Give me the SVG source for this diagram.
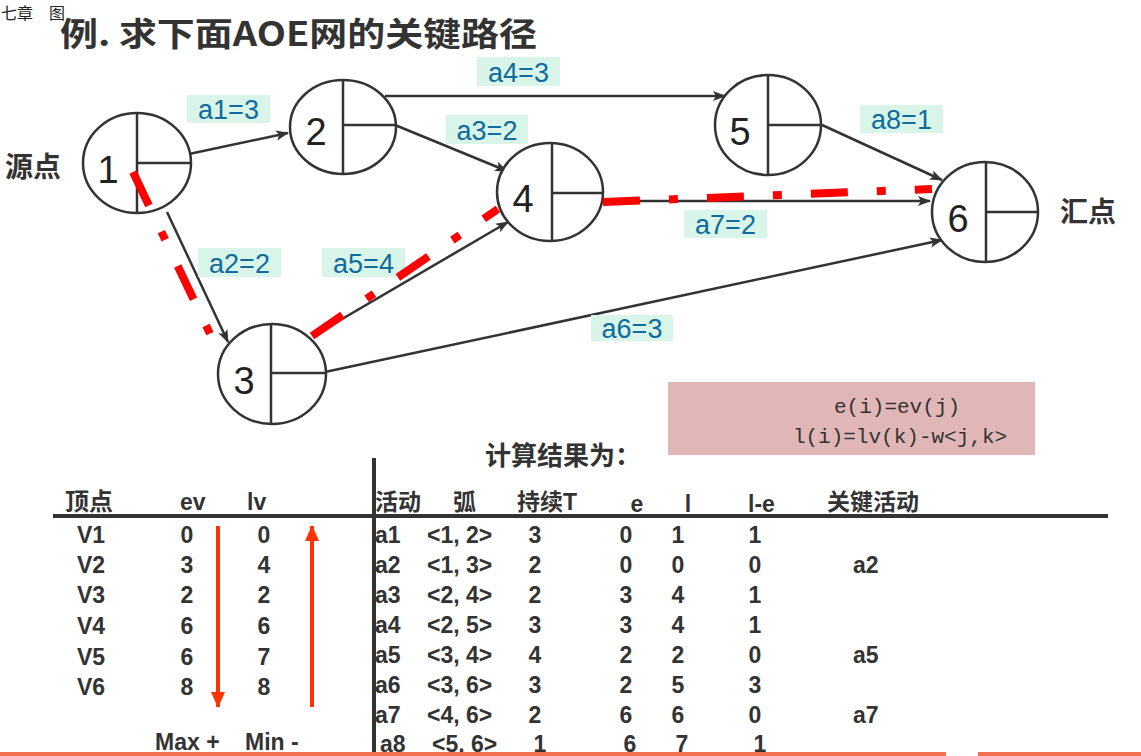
<svg xmlns="http://www.w3.org/2000/svg" width="1141" height="756" viewBox="0 0 1141 756">
<style>
.nd{fill:#fff;stroke:#333;stroke-width:2.5}
.dv{stroke:#333;stroke-width:2.5}
.num{font-family:"Liberation Sans Narrow","Liberation Sans",sans-serif;font-size:38px;fill:#222;text-anchor:middle}
.e{stroke:#333;stroke-width:2.5;fill:none;marker-end:url(#ah)}
.crit{stroke:#ff0000;stroke-width:8;fill:none;stroke-dasharray:37 29 9 29}
.lb{fill:#d9f4e8}
.lt{font-family:"Liberation Sans Narrow","Liberation Sans",sans-serif;font-size:27px;fill:#0e6b9e;text-anchor:middle}
.cj{font-family:"Noto Sans CJK SC",sans-serif;font-weight:bold;fill:#333}
.t{font-family:"Liberation Sans Narrow","Liberation Sans",sans-serif;font-weight:bold;font-size:23px;fill:#333}
.c{text-anchor:middle}
.mono{font-family:"Liberation Mono",monospace;font-size:21px;fill:#333;text-anchor:middle}
.ra{stroke:#ff3300;stroke-width:4;marker-end:url(#rh)}
</style>
<defs>
<marker id="ah" markerUnits="userSpaceOnUse" markerWidth="14" markerHeight="12" refX="12" refY="5" orient="auto" viewBox="0 0 14 10"><path d="M0,0 L13,5 L0,10 L3,5 Z" fill="#333"/></marker>
<marker id="rh" markerUnits="userSpaceOnUse" markerWidth="16" markerHeight="16" refX="15" refY="7" orient="auto" viewBox="0 0 16 14"><path d="M0,0 L16,7 L0,14 Z" fill="#ff3300"/></marker>
</defs>
<rect width="1141" height="756" fill="#fff"/>
<text x="1" y="19" font-family="Noto Sans CJK SC,sans-serif" font-size="16" fill="#222">七章　图</text>
<text x="60" y="46" class="cj" font-size="33" textLength="477" lengthAdjust="spacingAndGlyphs">例.  求下面AOE网的关键路径</text>
<text x="5" y="177" class="cj" font-size="28">源点</text>
<text x="1060" y="222" class="cj" font-size="28">汇点</text>

<g id="connectors">
<line class="e" x1="189" y1="154" x2="288" y2="133"/>
<line class="e" x1="167" y1="212" x2="228" y2="342"/>
<line class="e" x1="395" y1="125" x2="507" y2="171"/>
<line class="e" x1="385" y1="96" x2="725" y2="96"/>
<line class="e" x1="313" y1="336" x2="508" y2="222"/>
<line class="e" x1="325" y1="372" x2="942" y2="240"/>
<line class="e" x1="603" y1="201" x2="930" y2="201"/>
<line class="e" x1="822" y1="125" x2="942" y2="180"/>
</g>

<g id="labels">
<rect class="lb" x="187" y="95" width="83" height="28"/><text class="lt" x="228.5" y="119">a1=3</text>
<rect class="lb" x="198" y="248" width="83" height="29"/><text class="lt" x="239.5" y="273">a2=2</text>
<rect class="lb" x="446" y="115" width="82" height="29"/><text class="lt" x="487" y="140">a3=2</text>
<rect class="lb" x="477" y="57" width="83" height="29"/><text class="lt" x="518.5" y="82">a4=3</text>
<rect class="lb" x="322" y="248" width="83" height="29"/><text class="lt" x="363.5" y="273">a5=4</text>
<rect class="lb" x="591" y="315" width="82" height="26"/><text class="lt" x="632" y="338">a6=3</text>
<rect class="lb" x="684" y="210" width="83" height="28"/><text class="lt" x="725.5" y="234">a7=2</text>
<rect class="lb" x="860" y="105" width="83" height="28"/><text class="lt" x="901.5" y="129">a8=1</text>
</g>

<g id="n1"><ellipse class="nd" cx="137" cy="163" rx="54" ry="50"/><line class="dv" x1="137" y1="113" x2="137" y2="213"/><line class="dv" x1="137" y1="163" x2="191" y2="163"/><text class="num" x="108" y="183">1</text></g>
<g id="n2"><ellipse class="nd" cx="343" cy="127" rx="53" ry="47"/><line class="dv" x1="343" y1="80" x2="343" y2="174"/><line class="dv" x1="343" y1="125" x2="396" y2="125"/><text class="num" x="316" y="145">2</text></g>
<g id="n3"><ellipse class="nd" cx="272" cy="374" rx="54" ry="50"/><line class="dv" x1="271" y1="324" x2="271" y2="424"/><line class="dv" x1="271" y1="373" x2="326" y2="373"/><text class="num" x="244" y="394">3</text></g>
<g id="n4"><ellipse class="nd" cx="550" cy="192" rx="53" ry="49"/><line class="dv" x1="552" y1="143" x2="552" y2="241"/><line class="dv" x1="552" y1="193" x2="603" y2="193"/><text class="num" x="523" y="212">4</text></g>
<g id="n5"><ellipse class="nd" cx="768" cy="125" rx="53" ry="50"/><line class="dv" x1="768" y1="75" x2="768" y2="175"/><line class="dv" x1="768" y1="125" x2="821" y2="125"/><text class="num" x="740" y="145">5</text></g>
<g id="n6"><ellipse class="nd" cx="985" cy="212" rx="53" ry="50"/><line class="dv" x1="986" y1="162" x2="986" y2="262"/><line class="dv" x1="986" y1="212" x2="1038" y2="212"/><text class="num" x="958" y="232">6</text></g>

<g id="critical-path">
<line class="crit" x1="133" y1="172" x2="212" y2="338"/>
<line class="crit" x1="312" y1="336" x2="498" y2="209"/>
<line class="crit" x1="603" y1="202" x2="932" y2="189"/>
</g>

<g id="formula">
<rect x="668" y="382" width="367" height="73" fill="#e0b6b6"/>
<text class="mono" x="897" y="413">e(i)=ev(j)</text>
<text class="mono" x="900" y="443">l(i)=lv(k)-w&lt;j,k&gt;</text>
</g>

<text x="485" y="465" class="cj" font-size="26">计算结果为：</text>

<g id="table">
<line x1="53" y1="516" x2="1108" y2="516" stroke="#333" stroke-width="4"/>
<line x1="374" y1="458" x2="374" y2="756" stroke="#333" stroke-width="4"/>
<text x="65" y="510" class="cj" font-size="24">顶点</text>
<text x="180" y="510" class="t">ev</text>
<text x="247" y="510" class="t">lv</text>
<g class="t">
<text x="77" y="543">V1</text><text x="77" y="573">V2</text><text x="77" y="603">V3</text><text x="77" y="634">V4</text><text x="77" y="665">V5</text><text x="77" y="695">V6</text>
</g>
<g class="t c">
<text x="187" y="543">0</text><text x="187" y="573">3</text><text x="187" y="603">2</text><text x="187" y="634">6</text><text x="187" y="665">6</text><text x="187" y="695">8</text>
<text x="264" y="543">0</text><text x="264" y="573">4</text><text x="264" y="603">2</text><text x="264" y="634">6</text><text x="264" y="665">7</text><text x="264" y="695">8</text>
</g>
<line class="ra" x1="218" y1="526" x2="218" y2="707"/>
<line class="ra" x1="312" y1="707" x2="312" y2="526"/>
<text x="155" y="750" class="t">Max +</text>
<text x="245" y="750" class="t">Min -</text>

<text x="375" y="510" class="cj" font-size="23">活动</text>
<text x="453" y="510" class="cj" font-size="23">弧</text>
<text x="517" y="510" class="cj" font-size="23">持续<tspan font-family="Liberation Sans Narrow,Liberation Sans,sans-serif">T</tspan></text>
<text x="637" y="512" class="t c">e</text>
<text x="688" y="512" class="t c">l</text>
<text x="748" y="512" class="t">l-e</text>
<text x="827" y="510" class="cj" font-size="23">关键活动</text>
<g class="t">
<text x="375" y="543">a1</text><text x="375" y="573">a2</text><text x="375" y="603">a3</text><text x="375" y="633">a4</text><text x="375" y="663">a5</text><text x="375" y="693">a6</text><text x="375" y="723">a7</text><text x="380" y="752">a8</text>
<text x="427" y="543">&lt;1, 2&gt;</text><text x="427" y="573">&lt;1, 3&gt;</text><text x="427" y="603">&lt;2, 4&gt;</text><text x="427" y="633">&lt;2, 5&gt;</text><text x="427" y="663">&lt;3, 4&gt;</text><text x="427" y="693">&lt;3, 6&gt;</text><text x="427" y="723">&lt;4, 6&gt;</text><text x="432" y="752">&lt;5, 6&gt;</text>
<text x="853" y="573">a2</text><text x="853" y="663">a5</text><text x="853" y="723">a7</text>
</g>
<g class="t c">
<text x="535" y="543">3</text><text x="535" y="573">2</text><text x="535" y="603">2</text><text x="535" y="633">3</text><text x="535" y="663">4</text><text x="535" y="693">3</text><text x="535" y="723">2</text><text x="540" y="752">1</text>
<text x="626" y="543">0</text><text x="626" y="573">0</text><text x="626" y="603">3</text><text x="626" y="633">3</text><text x="626" y="663">2</text><text x="626" y="693">2</text><text x="626" y="723">6</text><text x="630" y="752">6</text>
<text x="678" y="543">1</text><text x="678" y="573">0</text><text x="678" y="603">4</text><text x="678" y="633">4</text><text x="678" y="663">2</text><text x="678" y="693">5</text><text x="678" y="723">6</text><text x="682" y="752">7</text>
<text x="755" y="543">1</text><text x="755" y="573">0</text><text x="755" y="603">1</text><text x="755" y="633">1</text><text x="755" y="663">0</text><text x="755" y="693">3</text><text x="755" y="723">0</text><text x="760" y="752">1</text>
</g>
</g>
<rect x="0" y="752" width="946" height="4" fill="#f07050"/>
<rect x="978" y="752" width="163" height="4" fill="#f07050"/>
</svg>
